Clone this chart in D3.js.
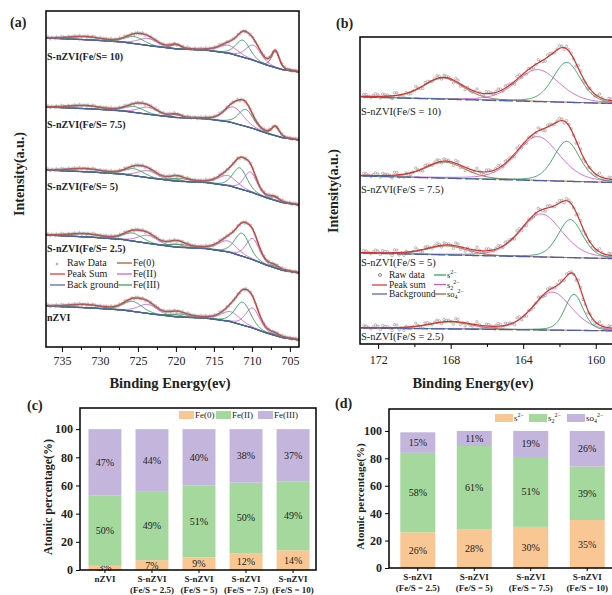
<!DOCTYPE html>
<html>
<head>
<meta charset="utf-8">
<script src="https://cdn.jsdelivr.net/npm/d3@7"></script>
<style>
body { margin: 0; background: #fff; }
svg { display: block; }
text { font-family: "Liberation Serif", "Times New Roman", serif; fill: #222; }
</style>
</head>
<body>
<svg id="fig" width="612" height="595"></svg>
<script>
// ---------- (a) Fe 2p ----------
const feTicks = [735, 730, 725, 720, 715, 710, 705];
const feMinorTicks = [732.5, 727.5, 722.5, 717.5, 712.5, 707.5];
const feSamples = ["S-nZVI(Fe/S= 10)", "S-nZVI(Fe/S= 7.5)", "S-nZVI(Fe/S= 5)", "S-nZVI(Fe/S= 2.5)", "nZVI"];
const feBase = [275, 207, 142, 74, 7];          // background level at low-energy end
const feStep = [34, 33, 35, 38, 34];            // background rise across the window
const feBgShape = [[737.1, 1], [731, 0.94], [727, 0.88], [723, 0.76], [720, 0.68], [716, 0.64],
  [713, 0.55], [710, 0.36], [708, 0.2], [706, 0.07], [703.8, 0]];
// [component, centre eV, height, fwhm]  component: 0 Fe(0), 1 Fe(II), 2 Fe(III)
const fePeaks = [
  [[0, 706.9, 16, 1.2], [0, 720.0, 4, 1.6], [1, 709.8, 15, 2.4], [1, 713.1, 8, 3], [1, 723.7, 7, 3],
   [2, 711.2, 17, 2.2], [2, 725.5, 7, 3], [2, 732, 3, 5]],
  [[0, 706.9, 9, 1.2], [0, 720.0, 3, 1.6], [1, 712.4, 16, 3], [1, 723.7, 7, 3],
   [2, 710.8, 17, 2.3], [2, 725.5, 6, 3], [2, 732, 3, 5]],
  [[0, 707.0, 3, 1.4], [0, 720.0, 2, 1.6], [1, 710.2, 20, 2.0], [1, 713.2, 10, 3], [1, 723.7, 7, 3],
   [2, 711.6, 21, 2.2], [2, 725.5, 7, 3], [2, 719.5, 3, 3], [2, 732, 3, 5]],
  [[0, 707.0, 2, 1.4], [0, 720.0, 3, 2], [1, 709.9, 21, 2.1], [1, 713.2, 11, 3], [1, 723.7, 8, 3],
   [2, 711.3, 23, 2.3], [2, 725.7, 8, 3], [2, 719.5, 3, 3], [2, 732, 3, 5]],
  [[0, 707.0, 1.5, 1.4], [0, 720.0, 2, 2], [1, 709.9, 20, 2.2], [1, 712.8, 10, 3], [1, 723.7, 9, 3],
   [2, 711.2, 23, 2.4], [2, 725.7, 10, 3], [2, 719.5, 3, 3], [2, 732, 3, 5]]
];
const feComponents = ["Fe(0)", "Fe(II)", "Fe(III)"];

// ---------- (b) S 2p ----------
const sTicks = [172, 168, 164, 160];
const sMinorTicks = [170, 166, 162];
const sSamples = ["S-nZVI(Fe/S = 10)", "S-nZVI(Fe/S = 7.5)", "S-nZVI(Fe/S = 5)", "S-nZVI(Fe/S = 2.5)"];
const sBgLeft = [247, 168, 91, 16];
const sBgRight = [240, 161, 85, 13];
// [component, centre eV, height, fwhm]  component: 0 S2-, 1 S2 2-, 2 SO4 2-
const sPeaks = [
  [[2, 168.4, 21, 2.6], [1, 163.2, 32, 2.8], [0, 161.6, 40, 1.8]],
  [[2, 168.3, 16, 2.6], [1, 163.2, 44, 2.8], [0, 161.6, 40, 1.7]],
  [[2, 168.2, 9, 2.6], [1, 163.0, 43, 2.7], [0, 161.4, 38, 1.6]],
  [[2, 168.0, 7, 2.8], [1, 162.4, 38, 2.5], [0, 161.2, 36, 1.2]]
];

// scatter of raw counts around the fit
const rawJitter = [0.6, -0.9, 1.2, -0.3, 0.8, -1.3, 0.2, 1.0, -0.7, 0.4, -1.1, 0.9, -0.2, 1.4, -0.8,
  0.3, -0.5, 1.1, -1.2, 0.5, -0.1, 0.7, -1.4, 0.1, 1.3, -0.6];

// ---------- (c) Fe species ----------
const feBarCats = [["nZVI"], ["S-nZVI", "(Fe/S = 2.5)"], ["S-nZVI", "(Fe/S = 5)"], ["S-nZVI", "(Fe/S = 7.5)"], ["S-nZVI", "(Fe/S = 10)"]];
const fe0 = [3, 7, 9, 12, 14];
const fe2 = [50, 49, 51, 50, 49];
const fe3 = [47, 44, 40, 38, 37];

// ---------- (d) S species ----------
const sBarCats = [["S-nZVI", "(Fe/S = 2.5)"], ["S-nZVI", "(Fe/S = 5)"], ["S-nZVI", "(Fe/S = 7.5)"], ["S-nZVI", "(Fe/S = 10)"]];
const s2 = [26, 28, 30, 35];
const s22 = [58, 61, 51, 39];
const so4 = [15, 11, 19, 26];
const pctTicks = [0, 20, 40, 60, 80, 100];

const compColors = ["#a0522d", "#c75ec7", "#2e9a5a"];
const sColors = ["#2e9a5a", "#c75ec7", "#a0522d"];
const sumColor = "#d8302c", bgColor = "#4b5cae", rawColor = "#8a8a8a";
const barColors = ["#f9c794", "#a4d89d", "#c4b5dc"];

const svg = d3.select("#fig");
svg.append("rect").attr("width", 612).attr("height", 595).attr("fill", "#fff");

function pv(e, c, h, w, m) {
  const t = (e - c) / w;
  return h * ((1 - m) * Math.exp(-4 * Math.LN2 * t * t) + m / (1 + 4 * t * t));
}

function panelLabel(txt, x, y) {
  svg.append("text").attr("x", x).attr("y", y).attr("font-size", 14).attr("font-weight", "bold").text(txt);
}

function energyAxis(g, x, y0, ticks, minor, pad) {
  g.append("g").attr("transform", `translate(0,${y0})`)
    .call(d3.axisBottom(x).tickValues(ticks).tickSize(5).tickPadding(pad).tickFormat(d3.format("d")))
    .call(a => a.select(".domain").remove())
    .call(a => a.selectAll("text").attr("font-size", 12).attr("fill", "#333")
      .style("font-family", '"Liberation Serif", serif'));
  g.append("g").attr("transform", `translate(0,${y0})`)
    .call(d3.axisBottom(x).tickValues(minor).tickSize(3).tickFormat(""))
    .call(a => a.select(".domain").remove());
}

// ================= panel (a) =================
{
  const x = d3.scaleLinear().domain([737.1, 703.8]).range([46, 299]);
  const y = d3.scaleLinear().domain([0, 336]).range([347, 11]);
  const shape = d3.scaleLinear().domain(feBgShape.map(d => d[0])).range(feBgShape.map(d => d[1]));
  const grid = d3.range(703.8, 737.1, 0.1);
  const rawGrid = d3.range(703.9, 737.0, 0.16);
  const g = svg.append("g");
  const line = d3.line().x(d => x(d[0])).y(d => y(d[1]));

  feSamples.forEach((name, i) => {
    const bg = e => feBase[i] + feStep[i] * shape(e);
    const fit = e => bg(e) + d3.sum(fePeaks[i], p => pv(e, p[1], p[2], p[3], 0.3));
    fePeaks[i].forEach(p => {
      g.append("path").datum(grid.map(e => [e, bg(e) + pv(e, p[1], p[2], p[3], 0.3)]))
        .attr("d", line).attr("fill", "none").attr("stroke", compColors[p[0]]).attr("stroke-width", 0.9);
    });
    g.append("path").datum(grid.map(e => [e, bg(e)]))
      .attr("d", line).attr("fill", "none").attr("stroke", bgColor).attr("stroke-width", 1.4).attr("opacity", 0.9);
    g.append("path").datum(grid.map(e => [e, fit(e)]))
      .attr("d", line).attr("fill", "none").attr("stroke", sumColor).attr("stroke-width", 1.5);
    g.append("g").selectAll("path").data(rawGrid.map((e, k) => [e, fit(e) + rawJitter[k % rawJitter.length] * 1.1]))
      .join("path")
      .attr("d", d => `M${x(d[0]) - 1.4},${y(d[1])}h2.8M${x(d[0])},${y(d[1]) - 1.4}v2.8`)
      .attr("stroke", rawColor).attr("stroke-width", 0.6).attr("opacity", 0.75);
  });

  const labelY = [60, 128, 190, 252, 321];
  g.selectAll(".slab").data(feSamples).join("text")
    .attr("x", 47).attr("y", (d, i) => labelY[i])
    .attr("font-size", 10).attr("font-weight", "bold").text(d => d);

  // legend
  const leg = g.append("g").attr("font-size", 10);
  leg.append("path").attr("d", "M55.7,264h2.6M57,262.7v2.6").attr("stroke", rawColor).attr("stroke-width", 0.8);
  const legRows = [["Raw Data", null, 266], ["Peak Sum", sumColor, 277], ["Back ground", bgColor, 288]];
  legRows.forEach(r => {
    if (r[1]) leg.append("line").attr("x1", 50).attr("x2", 65).attr("y1", r[2] - 3).attr("y2", r[2] - 3)
      .attr("stroke", r[1]).attr("stroke-width", 1.2);
    leg.append("text").attr("x", 67).attr("y", r[2]).text(r[0]);
  });
  feComponents.forEach((c, k) => {
    const yy = 266 + k * 11;
    leg.append("line").attr("x1", 117).attr("x2", 132).attr("y1", yy - 3).attr("y2", yy - 3)
      .attr("stroke", compColors[k]).attr("stroke-width", 1.2);
    leg.append("text").attr("x", 133).attr("y", yy).text(c);
  });

  g.append("rect").attr("x", 46).attr("y", 11).attr("width", 253).attr("height", 336)
    .attr("fill", "none").attr("stroke", "#000").attr("stroke-width", 1.5);
  energyAxis(g, x, 347, feTicks, feMinorTicks, 4);
  g.append("text").attr("x", 170).attr("y", 388).attr("text-anchor", "middle")
    .attr("font-size", 14.5).attr("font-weight", "bold").text("Binding Energy(ev)");
  g.append("text").attr("transform", "translate(24,174) rotate(-90)").attr("text-anchor", "middle")
    .attr("font-size", 14).attr("font-weight", "bold").text("Intensity(a.u.)");
  panelLabel("(a)", 10, 27);
}

// ================= panel (b) =================
{
  const x = d3.scaleLinear().domain([173.0, 158.0]).range([360, 632]);
  const y = d3.scaleLinear().domain([0, 307]).range([344, 37]);
  const grid = d3.range(158.0, 173.0, 0.05);
  const rawGrid = d3.range(158.1, 172.9, 0.13);
  const g = svg.append("g");
  const line = d3.line().x(d => x(d[0])).y(d => y(d[1]));

  sSamples.forEach((name, i) => {
    const bgL = d3.scaleLinear().domain([173, 158]).range([sBgLeft[i], sBgRight[i]]);
    const fit = e => bgL(e) + d3.sum(sPeaks[i], p => pv(e, p[1], p[2], p[3], 0.3));
    sPeaks[i].forEach(p => {
      g.append("path").datum(grid.map(e => [e, bgL(e) + pv(e, p[1], p[2], p[3], 0.3)]))
        .attr("d", line).attr("fill", "none").attr("stroke", sColors[p[0]]).attr("stroke-width", 0.9);
    });
    g.append("path").datum(grid.map(e => [e, bgL(e)]))
      .attr("d", line).attr("fill", "none").attr("stroke", bgColor).attr("stroke-width", 1.3)
      .attr("stroke-dasharray", "14,3");
    g.append("g").selectAll("circle").data(rawGrid.map((e, k) => [e, fit(e) + rawJitter[(k * 7) % rawJitter.length] * 2.2]))
      .join("circle").attr("cx", d => x(d[0])).attr("cy", d => y(d[1])).attr("r", 1.2)
      .attr("fill", "none").attr("stroke", rawColor).attr("stroke-width", 0.6);
    g.append("path").datum(grid.map(e => [e, fit(e)]))
      .attr("d", line).attr("fill", "none").attr("stroke", sumColor).attr("stroke-width", 1.2);
  });

  const labelY = [115, 193, 266, 340];
  g.selectAll(".slab").data(sSamples).join("text")
    .attr("x", 361).attr("y", (d, i) => labelY[i]).attr("font-size", 10.5).text(d => d);

  const leg = g.append("g").attr("font-size", 9.5);
  leg.append("circle").attr("cx", 380).attr("cy", 275).attr("r", 1.5).attr("fill", "none").attr("stroke", rawColor);
  const legRows = [["Raw data", null, 278], ["Peak sum", sumColor, 288], ["Background", bgColor, 297]];
  legRows.forEach(r => {
    if (r[1]) leg.append("line").attr("x1", 372).attr("x2", 387).attr("y1", r[2] - 3).attr("y2", r[2] - 3)
      .attr("stroke", r[1]).attr("stroke-width", 1.2);
    leg.append("text").attr("x", 389).attr("y", r[2]).text(r[0]);
  });
  const sNames = [["s", "2−", null], ["s", "2−", "2"], ["so", "2−", "4"]];
  sNames.forEach((n, k) => {
    const yy = 278 + k * 9.5;
    leg.append("line").attr("x1", 434).attr("x2", 446).attr("y1", yy - 3).attr("y2", yy - 3)
      .attr("stroke", sColors[k]).attr("stroke-width", 1.2);
    const t = leg.append("text").attr("x", 447).attr("y", yy).attr("font-size", 8.5).text(n[0]);
    if (n[2]) t.append("tspan").attr("font-size", 6).attr("dy", 2).text(n[2]);
    t.append("tspan").attr("font-size", 6).attr("dy", n[2] ? -6 : -4).text(n[1]);
  });

  g.append("rect").attr("x", 360).attr("y", 37).attr("width", 280).attr("height", 307)
    .attr("fill", "none").attr("stroke", "#000").attr("stroke-width", 1.5);
  energyAxis(g, x, 344, sTicks, sMinorTicks, 6);
  g.append("text").attr("x", 473).attr("y", 388).attr("text-anchor", "middle")
    .attr("font-size", 14.5).attr("font-weight", "bold").text("Binding Energy(ev)");
  g.append("text").attr("transform", "translate(338,191) rotate(-90)").attr("text-anchor", "middle")
    .attr("font-size", 14).attr("font-weight", "bold").text("Intensity(a.u.)");
  panelLabel("(b)", 336, 28);
}

// ================= bar panels =================
function barPanel(opt) {
  const g = svg.append("g");
  const table = opt.cats.map((c, i) => ({ i, a: opt.series[0][i], b: opt.series[1][i], c: opt.series[2][i] }));
  const stack = d3.stack().keys(["a", "b", "c"])(table);
  const x = d3.scaleBand().domain(d3.range(opt.cats.length)).range(opt.xr)
    .paddingInner(opt.pi).paddingOuter(opt.po);
  const y = d3.scaleLinear().domain([0, opt.ymax]).range([opt.y0, opt.y1]);

  stack.forEach((layer, k) => {
    g.append("g").selectAll("rect").data(layer).join("rect")
      .attr("x", d => x(d.data.i)).attr("width", x.bandwidth())
      .attr("y", d => y(d[1])).attr("height", d => y(d[0]) - y(d[1]))
      .attr("fill", barColors[k]);
    g.append("g").selectAll("text").data(layer).join("text")
      .attr("x", d => x(d.data.i) + x.bandwidth() / 2).attr("y", d => y((d[0] + d[1]) / 2) + 3.5)
      .attr("text-anchor", "middle").attr("font-size", 10).attr("fill", "#444")
      .text(d => (d[1] - d[0]) + "%");
  });

  g.append("g").attr("transform", `translate(${opt.xr[0]},0)`)
    .call(d3.axisLeft(y).tickValues(pctTicks).tickSize(4).tickPadding(3))
    .call(a => a.select(".domain").remove())
    .call(a => a.selectAll("text").attr("font-size", 12).attr("font-weight", "bold").attr("fill", "#222")
      .style("font-family", '"Liberation Serif", serif'));
  g.append("g").attr("transform", `translate(0,${opt.y0})`)
    .call(d3.axisBottom(x).tickSize(3).tickFormat(""))
    .call(a => a.select(".domain").remove());

  opt.cats.forEach((lines, i) => {
    const t = g.append("text").attr("text-anchor", "middle").attr("font-size", 9).attr("font-weight", "bold");
    lines.forEach((s, j) => t.append("tspan").attr("x", x(i) + x.bandwidth() / 2)
      .attr("y", opt.labY + j * 11).text(s));
  });

  g.append("rect").attr("x", opt.xr[0]).attr("y", opt.y1).attr("width", opt.frameW).attr("height", opt.y0 - opt.y1)
    .attr("fill", "none").attr("stroke", "#000").attr("stroke-width", 1.5);

  // legend
  opt.legend.forEach((n, k) => {
    const lx = opt.legX[k];
    g.append("rect").attr("x", lx).attr("y", opt.legY - 5).attr("width", opt.sw).attr("height", 8).attr("fill", barColors[k]);
    const t = g.append("text").attr("x", lx + opt.sw + 1).attr("y", opt.legY + 2).attr("font-size", 9).text(n[0]);
    if (n[2]) t.append("tspan").attr("font-size", 6).attr("dy", 2).text(n[2]);
    if (n[1]) t.append("tspan").attr("font-size", 6).attr("dy", n[2] ? -6 : -4).text(n[1]);
  });

  g.append("text").attr("transform", `translate(${opt.ylabX},${(opt.y0 + opt.y1) / 2 + 8}) rotate(-90)`)
    .attr("text-anchor", "middle").attr("font-size", opt.ylabSize).attr("font-weight", "bold")
    .text("Atomic percentage(%)");
}

barPanel({
  cats: feBarCats, series: [fe0, fe2, fe3], xr: [80, 318], pi: 0.3, po: 0.18,
  ymax: 115, y0: 570, y1: 408, frameW: 236, labY: 582,
  legend: [["Fe(0)"], ["Fe(II)"], ["Fe(III)"]], legX: [179, 216, 258], sw: 15, legY: 416,
  ylabX: 52, ylabSize: 12
});
barPanel({
  cats: sBarCats, series: [s2, s22, so4], xr: [389, 616], pi: 0.38, po: 0.2,
  ymax: 116, y0: 568, y1: 409, frameW: 240, labY: 580,
  legend: [["s", "2−", null], ["s", "2−", "2"], ["so", "2−", "4"]], legX: [495, 529, 567], sw: 18, legY: 419,
  ylabX: 364, ylabSize: 11
});
panelLabel("(c)", 27, 410);
panelLabel("(d)", 335, 408);
</script>
</body>
</html>
